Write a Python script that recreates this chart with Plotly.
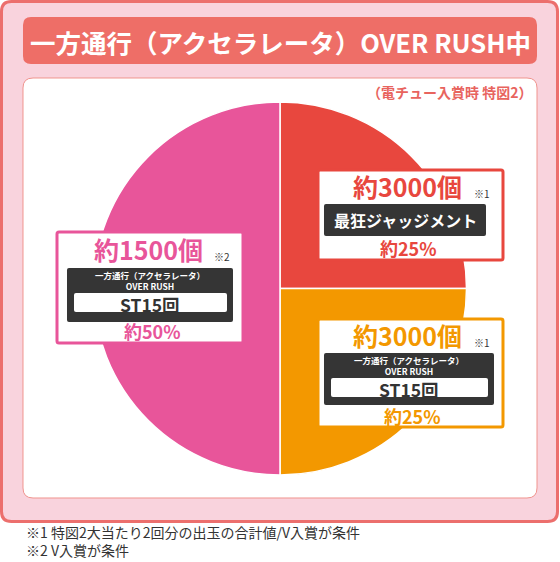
import plotly.graph_objects as go

W, H = 560, 562

# ---- data ----
slice_labels = ["最狂ジャッジメント", "一方通行（アクセラレータ）OVER RUSH ST15回 (約3000個)", "一方通行（アクセラレータ）OVER RUSH ST15回 (約1500個)"]
slice_values = [25, 25, 50]
slice_colors = ["#E8473E", "#F39800", "#E8559A"]
payouts = ["約3000個", "約3000個", "約1500個"]
notes = ["※1", "※1", "※2"]
percents = ["約25%", "約25%", "約50%"]
title_text = "一方通行（アクセラレータ）OVER RUSH中"
subtitle_text = "（電チュー入賞時 特図2）"
footnotes = ["※1 特図2大当たり2回分の出玉の合計値/V入賞が条件", "※2 V入賞が条件"]

FONT = "Noto Sans CJK JP"

def px(x):
    return x / W

def py(y):
    return 1 - y / H

def rrect(x0, y0, x1, y1, r):
    p = lambda x, y: f"{px(x):.5f},{py(y):.5f}"
    path = (f"M {p(x0+r, y0)} L {p(x1-r, y0)} Q {p(x1, y0)} {p(x1, y0+r)} "
            f"L {p(x1, y1-r)} Q {p(x1, y1)} {p(x1-r, y1)} "
            f"L {p(x0+r, y1)} Q {p(x0, y1)} {p(x0, y1-r)} "
            f"L {p(x0, y0+r)} Q {p(x0, y0)} {p(x0+r, y0)} Z")
    return path

shapes = []
annotations = []

def add_rect(x0, y0, x1, y1, r, fill, line_color=None, line_width=0, layer="above"):
    shapes.append(dict(type="path", path=rrect(x0, y0, x1, y1, r), xref="paper", yref="paper",
                       fillcolor=fill, line=dict(color=line_color or fill, width=line_width), layer=layer))

def add_text(x, y, text, size, color, xanchor="center", bold=True, align="center"):
    annotations.append(dict(x=px(x), y=py(y), xref="paper", yref="paper", text=(f"<b>{text}</b>" if bold else text),
                            showarrow=False, xanchor=xanchor, yanchor="middle", align=align,
                            font=dict(family=FONT, size=size, color=color)))

# background frame
add_rect(1.5, 1.5, 557.5, 521.5, 10, "#F9D3DD", "#EC6F6D", 3, layer="below")
add_rect(23, 17, 537, 64, 8, "#EE6E67", layer="below")
add_rect(23, 78, 537, 498, 10, "#FFFFFF", "#F0948E", 1, layer="below")

add_text(280, 41, title_text, 25.5, "#FFFFFF")
add_text(534, 92, subtitle_text, 14, "#E8645E", xanchor="right")

add_text(24, 541, "<br>".join(footnotes), 14, "#333333", xanchor="left", bold=False, align="left")

boxes = [
    dict(box=(318, 170, 503, 260), cx=407, py_=186, dark=(324, 204, 486, 236), sub=False, pct_y=248),
    dict(box=(318, 319, 503, 427), cx=407, py_=335, dark=(324, 353, 494, 405), sub=True, pct_y=416),
    dict(box=(57, 232, 243, 343), cx=148, py_=249, dark=(67, 268, 233, 322), sub=True, pct_y=331),
]

for i, b in enumerate(boxes):
    col = slice_colors[i]
    x0, y0, x1, y1 = b["box"]
    add_rect(x0, y0, x1, y1, 2, "#FFFFFF", col, 3)
    add_text(b["cx"], b["py_"], payouts[i], 25, col)
    add_text(x1 - 21, b["py_"] + 7, notes[i], 10, "#333333", bold=False)
    dx0, dy0, dx1, dy1 = b["dark"]
    add_rect(dx0, dy0, dx1, dy1, 2, "#353535")
    dcx = (dx0 + dx1) / 2
    if not b["sub"]:
        add_text(dcx, (dy0 + dy1) / 2, slice_labels[i], 16, "#FFFFFF")
    else:
        add_text(dcx, dy0 + 12, "一方通行（アクセラレータ）<br>OVER RUSH", 8.5, "#FFFFFF")
        add_rect(dx0 + 7, dy0 + 25, dx1 - 6, dy0 + 44, 2, "#FFFFFF")
        add_text(dcx, dy0 + 36.5, "ST15回", 17.5, "#333333")
    add_text(dcx + 3, b["pct_y"], percents[i], 18, col)

cx, cy, r = 280, 288.5, 186.5

fig = go.Figure(go.Pie(
    labels=slice_labels, values=slice_values, sort=False, direction="clockwise", rotation=0,
    marker=dict(colors=slice_colors, line=dict(color="#FFFFFF", width=1.5)),
    textinfo="none", hoverinfo="label+percent", showlegend=False,
    domain=dict(x=[(cx - r) / W, (cx + r) / W], y=[1 - (cy + r) / H, 1 - (cy - r) / H]),
))

fig.update_layout(
    width=W, height=H, margin=dict(l=0, r=0, t=0, b=0),
    paper_bgcolor="#FFFFFF", plot_bgcolor="rgba(0,0,0,0)",
    shapes=shapes, annotations=annotations, showlegend=False,
)

fig.write_html("out.html")
